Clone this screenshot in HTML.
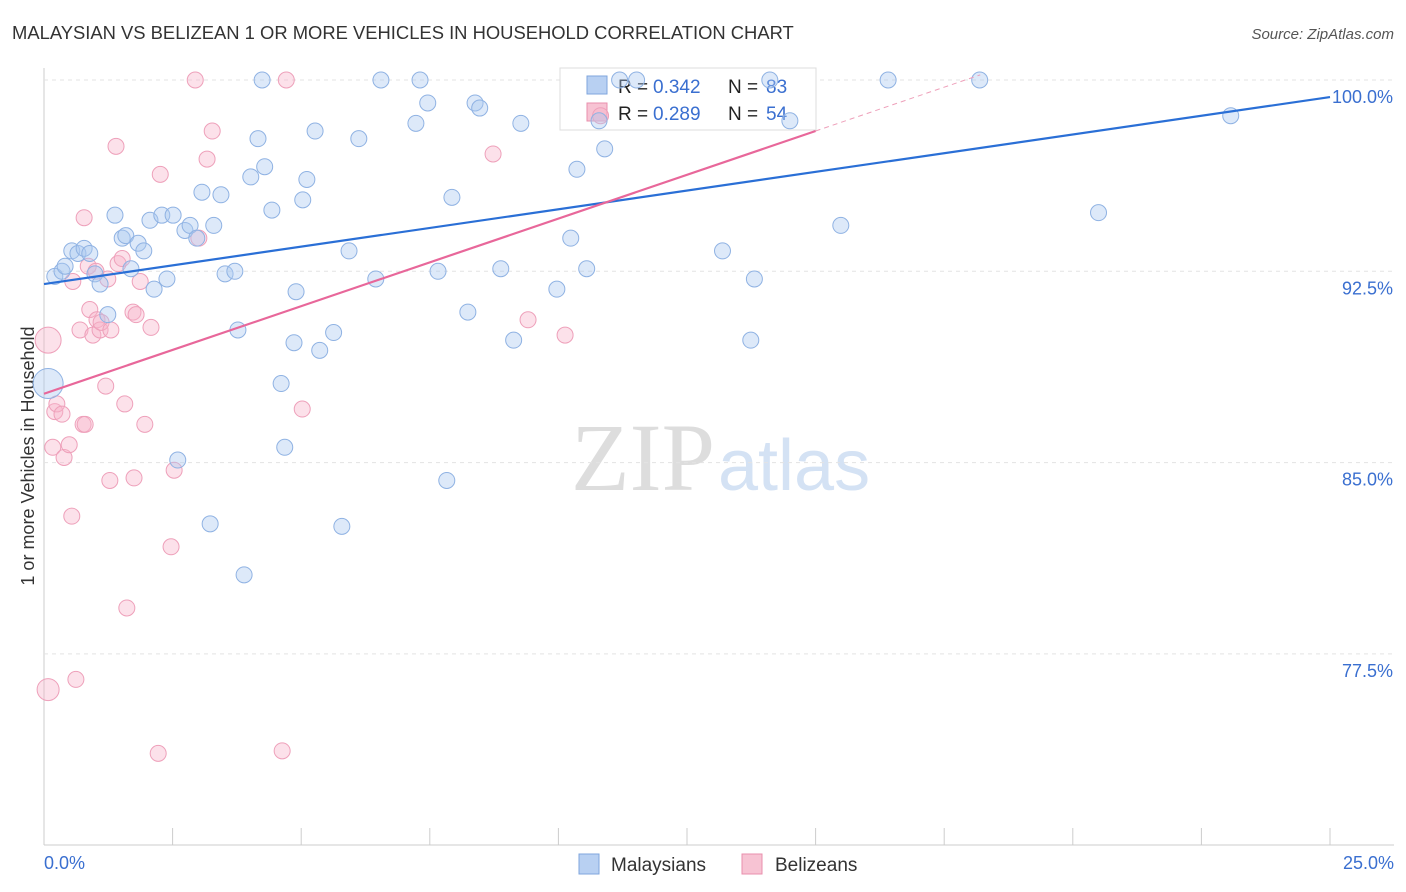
<!DOCTYPE html>
<html><head><meta charset="utf-8"><style>
body{margin:0;background:#fff;font-family:"Liberation Sans",sans-serif}
svg{display:block}
</style></head><body>
<svg id="c" width="1406" height="892">
<text x="12" y="39" font-size="18.4" fill="#333">MALAYSIAN VS BELIZEAN 1 OR MORE VEHICLES IN HOUSEHOLD CORRELATION CHART</text>
<text x="1394" y="39" font-size="15" fill="#555" font-style="italic" text-anchor="end">Source: ZipAtlas.com</text>
<text x="715" y="490" font-size="96" fill="#ddd" text-anchor="end" font-family="Liberation Serif">ZIP</text>
<text x="718" y="490" font-size="72" fill="#d4e2f4">atlas</text>
<text x="34" y="456" font-size="18" fill="#333" text-anchor="middle" transform="rotate(-90 34 456)">1 or more Vehicles in Household</text>
<g id="grid"></g>
<g>
<rect x="560" y="68" width="256" height="62" fill="#fff" stroke="#ddd"/>
<rect x="587" y="76" width="20" height="18" fill="#b8d0f2" stroke="#7fa6dd"/>
<rect x="587" y="103" width="20" height="18" fill="#f7c3d3" stroke="#e98fad"/>
<text y="93" font-size="19" fill="#222"><tspan x="618">R =</tspan><tspan x="653" fill="#3a6fd0">0.342</tspan><tspan x="728">N =</tspan><tspan x="766" fill="#3a6fd0">83</tspan></text>
<text y="120" font-size="19" fill="#222"><tspan x="618">R =</tspan><tspan x="653" fill="#3a6fd0">0.289</tspan><tspan x="728">N =</tspan><tspan x="766" fill="#3a6fd0">54</tspan></text>
</g>
<g id="pts"></g><g id="lines"></g>
<g>
<rect x="579" y="854" width="20" height="20" fill="#b8d0f2" stroke="#7fa6dd"/>
<text x="611" y="871" font-size="19" fill="#333">Malaysians</text>
<rect x="742" y="854" width="20" height="20" fill="#f7c3d3" stroke="#e98fad"/>
<text x="775" y="871" font-size="19" fill="#333">Belizeans</text>
</g>
</svg>
<script>
const xTicks=[0,25];
const yTicks=[100,92.5,85,77.5];
const blueX=[0.21,0.35,0.41,0.54,0.66,0.78,0.89,0.99,1.09,1.24,1.38,1.52,1.59,1.69,1.83,1.94,2.06,2.14,2.29,2.39,2.51,2.6,2.74,2.84,2.97,3.07,3.23,3.3,3.44,3.52,3.71,3.77,3.89,4.02,4.16,4.24,4.29,4.43,4.61,4.68,4.86,4.9,5.03,5.11,5.27,5.36,5.63,5.79,5.93,6.12,6.45,6.55,7.23,7.31,7.46,7.66,7.83,7.93,8.24,8.38,8.47,8.88,9.13,9.27,9.97,10.24,10.36,10.55,10.79,10.9,11.19,11.52,13.19,13.74,13.81,14.11,14.5,15.49,16.41,18.19,20.5,23.07,0.08];
const blueY=[92.3,92.5,92.7,93.3,93.2,93.4,93.2,92.4,92.0,90.8,94.7,93.8,93.9,92.6,93.6,93.3,94.5,91.8,94.7,92.2,94.7,85.1,94.1,94.3,93.8,95.6,82.6,94.3,95.5,92.4,92.5,90.2,80.6,96.2,97.7,100,96.6,94.9,88.1,85.6,89.7,91.7,95.3,96.1,98,89.4,90.1,82.5,93.3,97.7,92.2,100,98.3,100,99.1,92.5,84.3,95.4,90.9,99.1,98.9,92.6,89.8,98.3,91.8,93.8,96.5,92.6,98.4,97.3,100,100,93.3,89.8,92.2,100,98.4,94.3,100,100,94.8,98.6,88.1];
const pinkX=[0.08,0.08,0.21,0.25,0.35,0.17,0.39,0.49,0.54,0.56,0.62,0.7,0.76,0.78,0.8,0.86,0.89,0.95,1.01,1.03,1.09,1.11,1.2,1.24,1.28,1.3,1.4,1.44,1.52,1.57,1.61,1.73,1.75,1.79,1.87,1.96,2.08,2.22,2.26,2.47,2.53,2.94,3.01,3.17,3.27,4.63,4.71,5.02,8.73,9.41,10.13,10.82];
const pinkY=[89.8,76.1,87.0,87.3,86.9,85.6,85.2,85.7,82.9,92.1,76.5,90.2,86.5,94.6,86.5,92.7,91.0,90.0,92.5,90.6,90.2,90.5,88.0,92.2,84.3,90.2,97.4,92.8,93.0,87.3,79.3,90.9,84.4,90.8,92.1,86.5,90.3,73.6,96.3,81.7,84.7,100,93.8,96.9,98,73.7,100,87.1,97.1,90.6,90.0,98.6];
const X=v=>44+(v/25)*1286, Y=v=>80+(100-v)/7.5*191.3;
const NS="http://www.w3.org/2000/svg";
function mk(p,t,a){const e=document.createElementNS(NS,t);for(const k in a)e.setAttribute(k,a[k]);p.appendChild(e);return e;}
const g=document.getElementById('grid');
mk(g,'line',{x1:44,y1:68,x2:44,y2:845,stroke:'#ccc'});
mk(g,'line',{x1:44,y1:845,x2:1394,y2:845,stroke:'#ccc'});
for(let i=0;i<=10;i++){mk(g,'line',{x1:44+i*128.6,y1:828,x2:44+i*128.6,y2:845,stroke:'#ccc'});}
yTicks.forEach(v=>{const l=mk(g,'line',{x1:44,y1:Y(v),x2:1394,y2:Y(v),stroke:'#e3e3e3','stroke-dasharray':'4,4'});


const t=mk(g,'text',{x:1393,y:Y(v)+23,'font-size':18,fill:'#3a6fd0','text-anchor':'end'});t.textContent=v.toFixed(1)+'%';

});
xTicks.forEach((v,i)=>{const t=mk(g,'text',{x:i?1394:44,y:869,'font-size':18,fill:'#3a6fd0','text-anchor':i?'end':'start'});t.textContent=v.toFixed(1)+'%';

});
const p=document.getElementById('pts');
pinkX.forEach((x,i)=>{const c=mk(p,'circle',{cx:X(x),cy:Y(pinkY[i]),r:i==0?13:(i==1?11:8),fill:'rgba(247,180,203,0.4)',stroke:'#eea0ba','stroke-width':1});

});
blueX.forEach((x,i)=>{const c=mk(p,'circle',{cx:X(x),cy:Y(blueY[i]),r:i==blueX.length-1?15:8,fill:'rgba(170,200,240,0.4)',stroke:'#8fb2e3','stroke-width':1});

});
const L=document.getElementById('lines');
let e=mk(L,'line',{x1:X(0),y1:Y(92.0),x2:X(25),y2:Y(99.33),stroke:'#2a6fd6','stroke-width':2.2});


e=mk(L,'line',{x1:X(0),y1:Y(87.7),x2:X(15),y2:Y(98.0),stroke:'#e8679a','stroke-width':2.2});


e=mk(L,'line',{x1:X(15),y1:Y(98.0),x2:X(18.2),y2:Y(100.2),stroke:'#eea0ba','stroke-width':1,'stroke-dasharray':'5,4'});


</script>
</body></html>
